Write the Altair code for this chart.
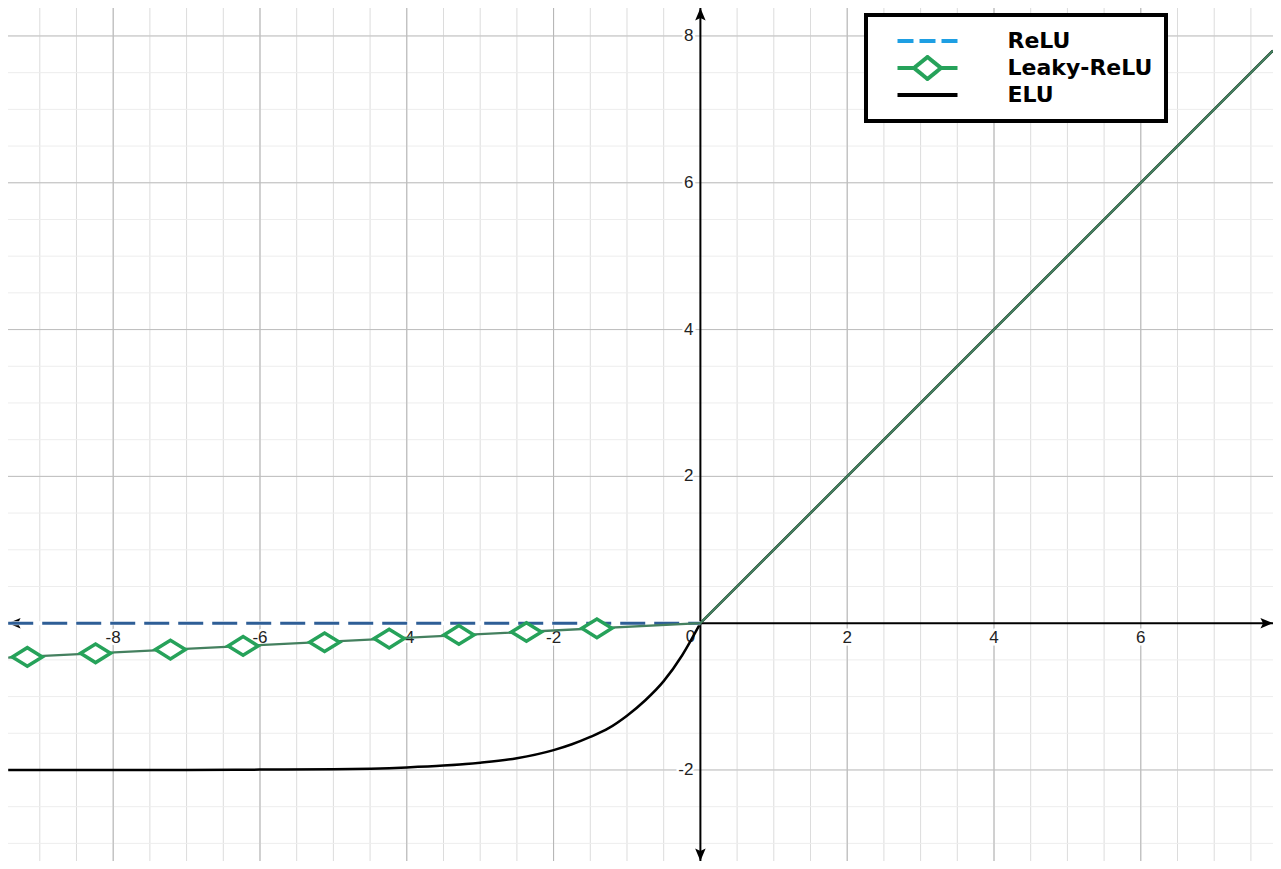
import altair as alt
import numpy as np
import pandas as pd

# ---------------- data ----------------
series_names = ["ReLU", "Leaky-ReLU", "ELU"]
legend_colors = ["#1e9fe3", "#26a25a", "#000000"]

relu_x = [-9.43, 0.0]
relu_y = [0.0, 0.0]

leaky_x = [-9.43, 0.0, 7.8]
leaky_y = [-0.47, 0.0, 7.8]

diamond_x = [-9.17, -8.24, -7.22, -6.23, -5.12, -4.24, -3.29, -2.37, -1.41]
diamond_y = [-0.46, -0.41, -0.36, -0.31, -0.26, -0.21, -0.16, -0.12, -0.07]

elu_neg_x = [-9.43, -7.0, -6.0, -5.0, -4.0, -3.5, -3.0, -2.5, -2.0, -1.75, -1.5,
             -1.25, -1.0, -0.75, -0.5, -0.25, 0.0]
elu_neg_y = [-2.0, -2.0, -1.995, -1.99, -1.965, -1.94, -1.9, -1.84, -1.73, -1.65,
             -1.55, -1.43, -1.26, -1.05, -0.79, -0.44, 0.0]
elu_pos_x = [0.0, 7.8]
elu_pos_y = [0.0, 7.8]

x_tick_values = [-8, -6, -4, -2, 2, 4, 6]
y_tick_values = [8, 6, 4, 2, -2]
origin_label = ["0"]

X_DOMAIN = [-9.433, 7.801]
Y_DOMAIN = [-3.240, 8.381]

minor_x = list(np.arange(-9.0, 7.51, 0.5))
major_x = [-8, -6, -4, -2, 2, 4, 6]
minor_y = list(np.arange(-3.0, 8.01, 0.5))
major_y = [-2, 2, 4, 6, 8]

# ---------------- helpers ----------------
xs = alt.Scale(domain=X_DOMAIN, nice=False, zero=False)
ys = alt.Scale(domain=Y_DOMAIN, nice=False, zero=False)


def X(f):
    return alt.X(f, type="quantitative", scale=xs, axis=None)


def Y(f):
    return alt.Y(f, type="quantitative", scale=ys, axis=None)


# ---------------- grid ----------------
g_minor_v = alt.Chart(pd.DataFrame({"x": minor_x})).mark_rule(
    color="#dcdcdc", strokeWidth=1).encode(x=X("x"))
g_minor_h = alt.Chart(pd.DataFrame({"y": minor_y})).mark_rule(
    color="#ededed", strokeWidth=1).encode(y=Y("y"))
g_major_v = alt.Chart(pd.DataFrame({"x": major_x})).mark_rule(
    color="#b4b4b4", strokeWidth=1).encode(x=X("x"))
g_major_h = alt.Chart(pd.DataFrame({"y": major_y})).mark_rule(
    color="#bdbdbd", strokeWidth=1).encode(y=Y("y"))

# ---------------- tick labels ----------------
xlab = pd.DataFrame({"x": x_tick_values, "y": [0] * len(x_tick_values),
                     "t": [str(v) for v in x_tick_values]})
ylab = pd.DataFrame({"x": [0] * len(y_tick_values), "y": y_tick_values,
                     "t": [str(v) for v in y_tick_values]})
olab = pd.DataFrame({"x": [0], "y": [0], "t": origin_label})

txt = dict(font="Liberation Sans", fontSize=17, baseline="middle")
labels = []
for df, extra in [(xlab, dict(align="center", dy=15)),
                  (ylab, dict(align="right", dx=-7)),
                  (olab, dict(align="center", dx=-10, dy=14))]:
    halo = alt.Chart(df).mark_text(stroke="white", strokeWidth=5, color="white",
                                   **txt, **extra).encode(x=X("x"), y=Y("y"), text="t:N")
    front = alt.Chart(df).mark_text(color="#222222", **txt, **extra).encode(
        x=X("x"), y=Y("y"), text="t:N")
    labels += [halo, front]

# ---------------- axes with arrows ----------------
xaxis = alt.Chart(pd.DataFrame({"x": [X_DOMAIN[0]], "x2": [X_DOMAIN[1]], "y": [0]})).mark_rule(
    color="black", strokeWidth=2).encode(x=X("x"), x2="x2", y=Y("y"))
yaxis = alt.Chart(pd.DataFrame({"y": [Y_DOMAIN[0]], "y2": [Y_DOMAIN[1]], "x": [0]})).mark_rule(
    color="black", strokeWidth=2).encode(y=Y("y"), y2="y2", x=X("x"))

arrows = []
for (ax, ay, path) in [
    (X_DOMAIN[0], 0, "M0,0L2.4,-1L1.9,0L2.4,1Z"),
    (X_DOMAIN[1], 0, "M0,0L-2.4,-1L-1.9,0L-2.4,1Z"),
    (0, Y_DOMAIN[1], "M0,0L-1,2.4L0,1.9L1,2.4Z"),
    (0, Y_DOMAIN[0], "M0,0L-1,-2.4L0,-1.9L1,-2.4Z"),
]:
    arrows.append(alt.Chart(pd.DataFrame({"x": [ax], "y": [ay]})).mark_point(
        shape=path, size=110, filled=True, color="black", opacity=1, strokeWidth=0
    ).encode(x=X("x"), y=Y("y")))

# ---------------- curves ----------------
elu_df = pd.DataFrame({
    "x": elu_neg_x + elu_pos_x,
    "y": elu_neg_y + elu_pos_y,
    "part": ["neg"] * len(elu_neg_x) + ["pos"] * len(elu_pos_x),
})
elu = alt.Chart(elu_df).mark_line(color="black", strokeWidth=2.5, interpolate="monotone").encode(
    x=X("x"), y=Y("y"), detail="part:N")

relu_df = pd.DataFrame({"x": relu_x, "y": relu_y})
relu_under = alt.Chart(relu_df).mark_line(color="white", strokeWidth=4).encode(x=X("x"), y=Y("y"))
relu = alt.Chart(relu_df).mark_line(color="#2e5e96", strokeWidth=3, strokeDash=[25, 9]).encode(
    x=X("x"), y=Y("y"))

leaky = alt.Chart(pd.DataFrame({"x": leaky_x, "y": leaky_y})).mark_line(
    color="#44805f", strokeWidth=2.3).encode(x=X("x"), y=Y("y"))

diamonds = alt.Chart(pd.DataFrame({"x": diamond_x, "y": diamond_y})).mark_point(
    shape="M-1,0L0,-0.62L1,0L0,0.62Z", size=900, filled=True, fill="white",
    stroke="#26a25a", strokeWidth=3.5, opacity=1
).encode(x=X("x"), y=Y("y"))

# ---------------- legend (carried by invisible points) ----------------
legend_shapes = [
    "M-3,0L3,0",
    "M-3,0L-1.35,0L0,-1.1L1.35,0L0,1.1L-1.35,0ZM1.35,0L3,0",
    "M-3,0L3,0",
]
legend_dashes = [[16, 6], [1, 0], [1, 0]]
leg = alt.Legend(title=None, orient="none", legendX=858, legendY=7,
                 labelExpr="datum.label + '\u2003'")

carrier = alt.Chart(pd.DataFrame({"series": series_names})).mark_point(
    opacity=0, filled=False, strokeWidth=4
).encode(
    x=alt.datum(0),
    y=alt.datum(0),
    color=alt.Color("series:N", scale=alt.Scale(domain=series_names, range=legend_colors), legend=leg),
    shape=alt.Shape("series:N", scale=alt.Scale(domain=series_names, range=legend_shapes), legend=leg),
    strokeDash=alt.StrokeDash("series:N", scale=alt.Scale(domain=series_names, range=legend_dashes),
                              legend=leg),
)

chart = alt.layer(
    g_minor_v, g_minor_h, g_major_v, g_major_h,
    *labels,
    xaxis, yaxis, *arrows,
    elu, relu_under, relu, leaky, diamonds,
    carrier,
).properties(
    width=1265, height=853, padding=0,
    autosize=alt.AutoSizeParams(type="none"),
    background="white",
).configure_view(strokeWidth=0).configure_legend(
    padding=13, strokeColor="black", strokeWidth=4, fillColor="white",
    symbolSize=400, symbolStrokeWidth=4, symbolOpacity=1, symbolOffset=36.5,
    labelOffset=68, rowPadding=1, clipHeight=26, labelFont="DejaVu Sans", labelFontSize=22,
    labelFontWeight="bold", labelColor="black", labelLimit=400, cornerRadius=0,
)

chart.save("out.html", embed_options={"renderer": "svg", "actions": False})
